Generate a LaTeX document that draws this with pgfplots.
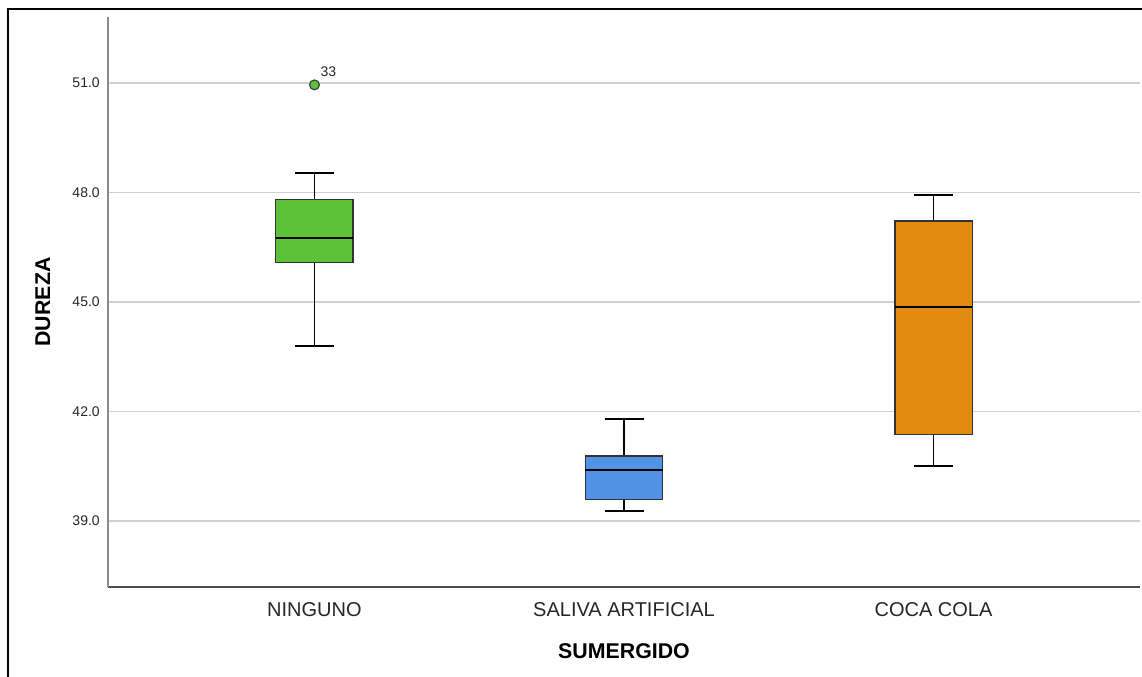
\documentclass[border=0pt]{standalone}
\usepackage{fontspec}
\setmainfont{Liberation Sans}
\usepackage{pgfplots}
\pgfplotsset{compat=1.18}
\usepgfplotslibrary{statistics}
\definecolor{boxgreen}{RGB}{94,194,56}
\definecolor{boxblue}{RGB}{82,146,228}
\definecolor{boxorange}{RGB}{224,138,16}
\definecolor{gridgray}{RGB}{208,208,208}
\definecolor{boxline}{RGB}{50,50,50}
\begin{document}
\begin{tikzpicture}
\path[use as bounding box] (0pt,0pt) rectangle (856.5pt,507.75pt);
\draw[line width=1.5pt,black] (6pt,-2pt) -- (6pt,501pt) -- (860pt,501pt);
\begin{axis}[
  at={(81pt,67.5pt)}, anchor=south west,
  scale only axis, width=774pt, height=427.5pt,
  xmin=0.333, xmax=3.667, ymin=37.19, ymax=52.81,
  axis x line*=bottom, axis y line*=left,
  x axis line style={draw=black!70, line width=1.4pt},
  y axis line style={draw=black!45, line width=1.4pt},
  major tick length=0pt,
  ytick={39,42,45,48,51},
  xtick={1,2,3},
  xticklabels={NINGUNO, SALIVA ARTIFICIAL, COCA COLA},
  /pgf/number format/assume math mode=true,
  yticklabel style={/pgf/number format/fixed, /pgf/number format/fixed zerofill, /pgf/number format/precision=1,
     font=\fontsize{10.5}{12}\selectfont, text=black!85, anchor=east, inner sep=0pt, xshift=-6pt},
  xticklabel style={font=\fontsize{15}{18}\selectfont, text=black!85, anchor=base, inner sep=0pt, yshift=-22.5pt},
  ymajorgrids, grid style={draw=gridgray, line width=1.1pt},
  xlabel={\bfseries SUMERGIDO},
  ylabel={\bfseries DUREZA},
  xlabel style={font=\fontsize{16}{19}\selectfont, at={(axis description cs:0.5,-0.1123)}, anchor=center},
  ylabel style={font=\fontsize{16}{19}\selectfont, at={(axis description cs:-0.063,0.5)}, anchor=center},
  cycle list={{draw=boxline}},
  boxplot/draw direction=y,
]
\addplot+[solid, draw=boxline, fill=boxgreen, line width=0.8pt, mark=*, mark size=3.7pt,
  mark options={fill=boxgreen, draw=black!75, line width=0.9pt},
  boxplot prepared={draw position=1, lower whisker=43.79, lower quartile=46.07,
    median=46.75, upper quartile=47.82, upper whisker=48.53,
    box extend=0.249, whisker extend=0.126,
    every median/.style={draw=black, line width=2pt},
    every whisker/.style={draw=black, line width=1.25pt}}]
  table[row sep=\\, y index=0] {data\\ 50.95\\};
\addplot+[solid, draw=boxline, fill=boxblue, line width=0.8pt, mark=none,
  boxplot prepared={draw position=2, lower whisker=39.27, lower quartile=39.60,
    median=40.40, upper quartile=40.78, upper whisker=41.79,
    box extend=0.249, whisker extend=0.126,
    every median/.style={draw=black, line width=2pt},
    every whisker/.style={draw=black, line width=1.25pt}}]
  coordinates {};
\addplot+[solid, draw=boxline, fill=boxorange, line width=0.8pt, mark=none,
  boxplot prepared={draw position=3, lower whisker=40.51, lower quartile=41.38,
    median=44.86, upper quartile=47.22, upper whisker=47.93,
    box extend=0.249, whisker extend=0.126,
    every median/.style={draw=black, line width=2pt},
    every whisker/.style={draw=black, line width=1.25pt}}]
  coordinates {};
\node[font=\fontsize{10.5}{12}\selectfont, text=black!85, xshift=10.5pt, yshift=9.75pt] at (axis cs:1,50.95) {33};
\end{axis}
\end{tikzpicture}
\end{document}
